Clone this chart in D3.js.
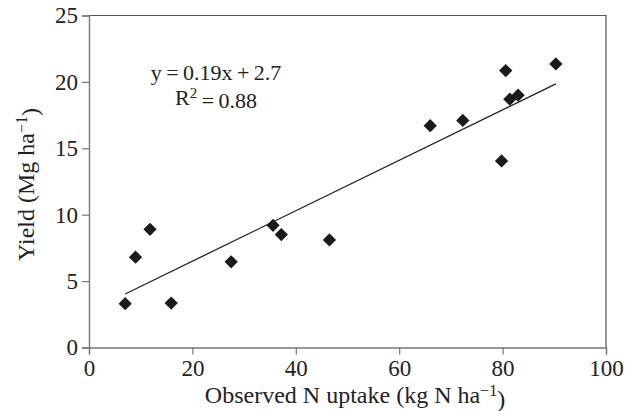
<!DOCTYPE html>
<html>
<head>
<meta charset="utf-8">
<script src="https://cdn.jsdelivr.net/npm/d3@7"></script>
<style>
  html, body { margin: 0; padding: 0; background: #fff; }
  svg { display: block; font-family: "Liberation Serif", "DejaVu Serif", serif; }
</style>
</head>
<body>
<svg id="chart" width="629" height="411"></svg>
<script>
// observed N uptake vs yield
var nUptake = [7.0, 9.0, 11.8, 15.9, 27.5, 35.6, 37.2, 46.5, 66.0, 72.3, 79.8, 80.6, 81.4, 83.0, 90.3];
var yieldVals = [3.3, 6.8, 8.9, 3.35, 6.45, 9.2, 8.5, 8.1, 16.7, 17.1, 14.05, 20.85, 18.7, 19.0, 21.35];

var xTicks = [0, 20, 40, 60, 80, 100];
var yTicks = [0, 5, 10, 15, 20, 25];

// linear fit shown on the chart
var fitSlope = 0.19;
var fitIntercept = 2.7;

var width = 629, height = 411;
var margin = { top: 15.5, right: 23, bottom: 63.5, left: 89 };

var svg = d3.select("#chart");

var x = d3.scaleLinear().domain([0, 100]).range([margin.left, width - margin.right]);
var y = d3.scaleLinear().domain([0, 25]).range([height - margin.bottom, margin.top]);

/* frame (top and right) */
svg.append("path")
    .attr("d", "M" + x(0) + "," + y(25) + "H" + x(100) + "V" + y(0))
    .attr("fill", "none")
    .attr("stroke", "#555")
    .attr("stroke-width", 1.2);

/* x axis */
var xAxis = svg.append("g")
    .attr("transform", "translate(0," + y(0) + ")")
    .call(d3.axisBottom(x).tickValues(xTicks).tickSizeOuter(0).tickSize(7).tickPadding(5));

/* y axis */
var yAxis = svg.append("g")
    .attr("transform", "translate(" + x(0) + ",0)")
    .call(d3.axisLeft(y).tickValues(yTicks).tickSizeOuter(0).tickSize(7).tickPadding(4));

[xAxis, yAxis].forEach(function(a) {
    a.select(".domain").attr("stroke", "#777").attr("stroke-width", 1.4);
    a.selectAll(".tick line").attr("stroke", "#777").attr("stroke-width", 1.2);
    a.selectAll(".tick text")
        .attr("fill", "#222")
        .style("font-family", "Liberation Serif, serif")
        .style("font-size", "23px");
});

/* trend line over the data range */
var xr = d3.extent(nUptake);
var line = d3.line()
    .x(function(d) { return x(d); })
    .y(function(d) { return y(fitSlope * d + fitIntercept); });

svg.append("path")
    .datum(xr)
    .attr("d", line)
    .attr("fill", "none")
    .attr("stroke", "#222")
    .attr("stroke-width", 1.3);

/* diamonds */
var diamond = d3.symbol().type(d3.symbolSquare).size(88);
svg.append("g")
    .selectAll("path")
    .data(nUptake)
    .enter()
    .append("path")
    .attr("d", diamond)
    .attr("fill", "#1a1a1a")
    .attr("transform", function(d, i) {
        return "translate(" + x(d) + "," + y(yieldVals[i]) + ") rotate(45)";
    });

/* equation */
var eq = svg.append("text")
    .attr("x", 216)
    .attr("y", 80)
    .attr("text-anchor", "middle")
    .attr("fill", "#222")
    .style("font-size", "22px")
    .text("y\u2009=\u20090.19x\u2009+\u20092.7");

var r2 = svg.append("text")
    .attr("x", 216)
    .attr("y", 104.5)
    .attr("text-anchor", "middle")
    .attr("fill", "#222")
    .style("font-size", "22px");
r2.append("tspan").text("R");
r2.append("tspan").attr("dy", "-0.45em").style("font-size", "15px").text("2");
r2.append("tspan").attr("dy", "0.45em").text("\u2009=\u20090.88");

/* axis titles */
var xt = svg.append("text")
    .attr("x", 355)
    .attr("y", 403)
    .attr("text-anchor", "middle")
    .attr("fill", "#222")
    .style("font-size", "24px");
xt.append("tspan").text("Observed N uptake (kg N ha");
xt.append("tspan").attr("dy", "-0.45em").style("font-size", "16px").text("\u22121");
xt.append("tspan").attr("dy", "0.45em").text(")");

var yt = svg.append("text")
    .attr("transform", "translate(34," + ((y(0) + y(25)) / 2 + 3) + ") rotate(-90)")
    .attr("text-anchor", "middle")
    .attr("fill", "#222")
    .style("font-size", "24px");
yt.append("tspan").text("Yield (Mg ha");
yt.append("tspan").attr("dy", "-0.45em").style("font-size", "16px").text("\u22121");
yt.append("tspan").attr("dy", "0.45em").text(")");
</script>
</body>
</html>
